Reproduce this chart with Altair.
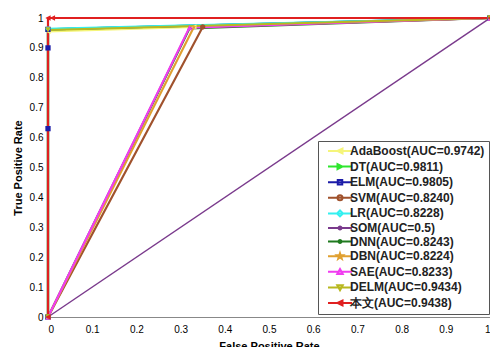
import altair as alt
import pandas as pd

models = ["AdaBoost", "DT", "ELM", "SVM", "LR", "SOM", "DNN", "DBN", "SAE", "DELM", "本文"]
aucs = ["0.9742", "0.9811", "0.9805", "0.8240", "0.8228", "0.5", "0.8243", "0.8224", "0.8233", "0.9434", "0.9438"]
colors = ["#f5f57a", "#2ee62e", "#1c1ca8", "#a0522d", "#33f0f0", "#7a3a8c",
          "#1f7a1f", "#e0a030", "#f03cf0", "#b8b820", "#e02020"]

fpr = {
    "AdaBoost": [0, 0, 0.33, 1],
    "DT": [0, 0, 1],
    "ELM": [0, 0, 0, 0, 1],
    "SVM": [0, 0.35, 1],
    "LR": [0, 0, 1],
    "SOM": [0, 1],
    "DNN": [0, 0.32, 1],
    "DBN": [0, 0.33, 1],
    "SAE": [0, 0.32, 1],
    "DELM": [0, 0, 1],
    "本文": [0, 0, 0.01, 1],
}
tpr = {
    "AdaBoost": [0, 0.955, 0.97, 1],
    "DT": [0, 0.962, 1],
    "ELM": [0, 0.63, 0.9, 0.962, 1],
    "SVM": [0, 0.97, 1],
    "LR": [0, 0.964, 1],
    "SOM": [0, 1],
    "DNN": [0, 0.965, 1],
    "DBN": [0, 0.97, 1],
    "SAE": [0, 0.968, 1],
    "DELM": [0, 0.96, 1],
    "本文": [0, 1, 1, 1],
}

tick_vals = [0, 0.1, 0.2, 0.3, 0.4, 0.5, 0.6, 0.7, 0.8, 0.9, 1]

# marker glyphs in the plot (unit-square paths)
m_paths = {
    "tri_left": "M-1,0L1,-1L1,1Z",
    "tri_right": "M1,0L-1,-1L-1,1Z",
    "square": "M-1,-1H1V1H-1Z",
    "circle": "M-1,0A1,1 0 1 1 1,0A1,1 0 1 1 -1,0Z",
    "diamond": "M0,-1L1,0L0,1L-1,0Z",
    "dot": "M-0.6,0A0.6,0.6 0 1 1 0.6,0A0.6,0.6 0 1 1 -0.6,0Z",
    "star": "M0,-1L0.24,-0.31L0.95,-0.31L0.38,0.12L0.59,0.81L0,0.4L-0.59,0.81L-0.38,0.12L-0.95,-0.31L-0.24,-0.31Z",
    "tri_up": "M0,-1L1,1L-1,1Z",
    "tri_down": "M0,1L1,-1L-1,-1Z",
}
# legend glyphs: a line segment with the marker in the middle
L = "M-2.4,0H2.4"
lg_paths = {
    "tri_left": L + "M-0.5,0L0.5,-0.5L0.5,0.5Z",
    "tri_right": L + "M0.5,0L-0.5,-0.5L-0.5,0.5Z",
    "square": L + "M-0.45,-0.45H0.45V0.45H-0.45Z",
    "circle": L + "M-0.5,0A0.5,0.5 0 1 1 0.5,0A0.5,0.5 0 1 1 -0.5,0Z",
    "diamond": L + "M0,-0.6L0.6,0L0,0.6L-0.6,0Z",
    "dot": L + "M-0.3,0A0.3,0.3 0 1 1 0.3,0A0.3,0.3 0 1 1 -0.3,0Z",
    "star": L + "M0,-0.6L0.14,-0.19L0.57,-0.19L0.23,0.07L0.35,0.49L0,0.24L-0.35,0.49L-0.23,0.07L-0.57,-0.19L-0.14,-0.19Z",
    "tri_up": L + "M0,-0.55L0.55,0.45L-0.55,0.45Z",
    "tri_down": L + "M0,0.55L0.55,-0.45L-0.55,-0.45Z",
}
marker_of = ["tri_left", "tri_right", "square", "circle", "diamond", "dot",
             "dot", "star", "tri_up", "tri_down", "tri_left"]

labels = [f"{m}(AUC={a})" for m, a in zip(models, aucs)]

rows = []
for i, m in enumerate(models):
    for k, (x, y) in enumerate(zip(fpr[m], tpr[m])):
        rows.append({"model": m, "label": labels[i], "step": k, "fpr": x, "tpr": y})
df = pd.DataFrame(rows)

xs = alt.Scale(domain=[0, 1], nice=False)
ys = alt.Scale(domain=[0, 1], nice=False)
x_enc = alt.X("fpr:Q", scale=xs, axis=alt.Axis(values=tick_vals, format="~g", title="False Positive Rate",
                                                 grid=False, ticks=False, labelPadding=7, titlePadding=6))
y_enc = alt.Y("tpr:Q", scale=ys, axis=alt.Axis(values=tick_vals, format="~g", title="True Positive Rate",
                                                 grid=False, ticks=False, labelPadding=5, titlePadding=6))

base = alt.Chart(df)
layers = []
for i, m in enumerate(models):
    sub = base.transform_filter(alt.datum.model == m)
    layers.append(sub.mark_line(color=colors[i], strokeWidth=1.5 if m == "SOM" else 2.2)
                  .encode(x=x_enc, y=y_enc, order="step:Q"))
for i, m in enumerate(models):
    sub = base.transform_filter(alt.datum.model == m)
    layers.append(sub.mark_point(shape=m_paths[marker_of[i]], size=28, filled=True, color=colors[i], opacity=1)
                  .encode(x=x_enc, y=y_enc))

leg = alt.Legend(title=None, orient="none", legendX=270, legendY=123,
                 fillColor="white", strokeColor="#555", padding=4,
                 symbolSize=100, symbolOffset=12, labelOffset=4,
                 rowPadding=1.6, symbolStrokeWidth=2,
                 labelFont="Liberation Sans", labelFontSize=12,
                 labelFontWeight="bold", labelColor="#222", labelLimit=300)

legend_layer = base.transform_filter(alt.datum.step == 0).mark_point(
    filled=True, strokeWidth=2, opacity=0).encode(
    x=x_enc, y=y_enc,
    fill=alt.Fill("label:N", scale=alt.Scale(domain=labels, range=colors), legend=leg),
    stroke=alt.Stroke("label:N", scale=alt.Scale(domain=labels, range=colors), legend=leg),
    shape=alt.Shape("label:N", scale=alt.Scale(domain=labels, range=[lg_paths[k] for k in marker_of]), legend=leg),
)
layers.append(legend_layer)

chart = alt.layer(*layers).properties(
    width=442, height=299,
    autosize=alt.AutoSizeParams(type="none"),
    padding={"left": 40, "top": 10, "right": 0, "bottom": 30},
).configure_view(stroke="#666", strokeWidth=1).configure_axis(
    labelFont="Liberation Sans", labelFontSize=12.5, labelFontWeight="bold", labelColor="#333",
    titleFont="Liberation Sans", titleFontSize=13, titleFontWeight="bold", titleColor="#444",
    domainColor="#666",
).configure_legend(symbolOpacity=1).configure(background="white")

chart.save("out.html", embed_options={"renderer": "svg", "actions": False})
